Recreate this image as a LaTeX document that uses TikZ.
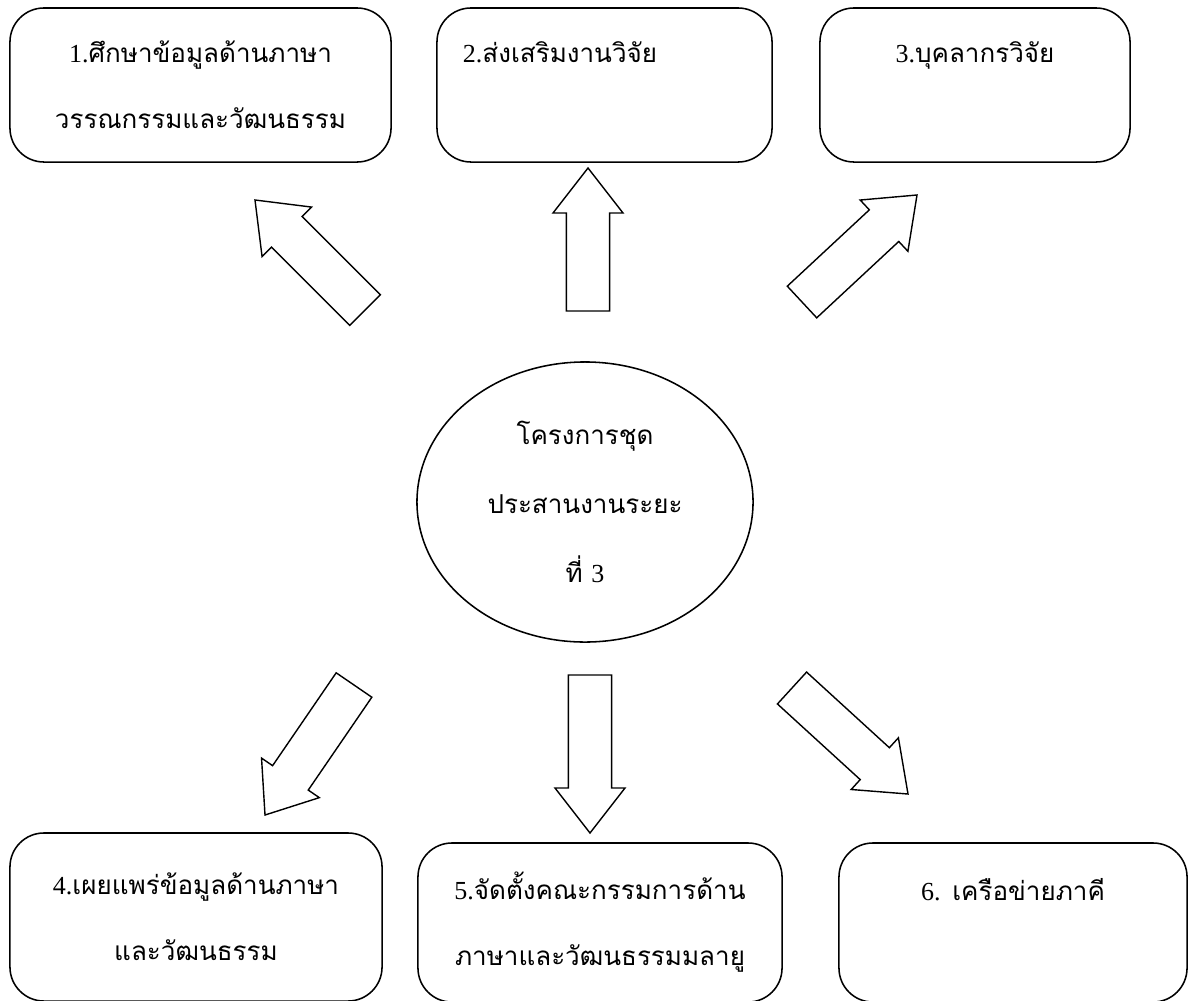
\documentclass[tikz,border=0pt]{standalone}
\usepackage{fontspec}
\newfontfamily\thaifont[Script=Thai]{Loma}
\newfontfamily\latinfont{Liberation Serif}
\usepackage{tikz}
\usetikzlibrary{calc, shapes.geometric}

% hollow block arrow from tail coordinate #1 to tip coordinate #2
\newcommand{\bigarrow}[2]{%
    \coordinate (#1-base) at ($(#2)!1.125cm!(#1)$);
    \draw[bigarrow] ($(#1)!0.54cm!90:(#2)$) -- ($(#1-base)!0.54cm!90:(#2)$)
        -- ($(#1-base)!0.875cm!90:(#2)$) -- (#2)
        -- ($(#1-base)!0.875cm!-90:(#2)$) -- ($(#1-base)!0.54cm!-90:(#2)$)
        -- ($(#1)!0.54cm!-90:(#2)$) -- cycle;%
}
% serif numbering in front of the Thai text
\newcommand{\itemno}[1]{{\latinfont #1}}

\begin{document}
\begin{tikzpicture}[
        x = 0.025cm, y = -0.025cm,
        box/.style = {draw, rounded corners=0.85cm, line width=1.1pt, align=center, inner sep=0pt, font=\thaifont\fontsize{18.5}{47}\selectfont},
        hub/.style = {ellipse, draw, line width=1.1pt, align=center, inner sep=0pt, minimum width=8.4cm, minimum height=7cm, font=\thaifont\fontsize{18.5}{49}\selectfont},
        bigarrow/.style = {draw, line width=1pt, fill=white, line join=miter}
    ]
    \useasboundingbox (0,0) rectangle (1188,1000);

    \node[hub] (hub) at (585,502) {โครงการชุด\\ประสานงานระยะ\\ที่ \itemno{3}};

    \node[box, minimum width=9.525cm, minimum height=3.85cm] (study) at (200.5,85) {\itemno{1.}ศึกษาข้อมูลด้านภาษา\\วรรณกรรมและวัฒนธรรม};
    \node[box, minimum width=8.375cm, minimum height=3.85cm, text width=7.075cm, align=left] (research) at (604.5,85) {\itemno{2.}ส่งเสริมงานวิจัย\\~};
    \node[box, minimum width=7.75cm, minimum height=3.85cm] (staff) at (975,85) {\itemno{3.}บุคลากรวิจัย\\~};
    \node[box, minimum width=9.3cm, minimum height=4.2cm] (spread) at (196,917) {\itemno{4.}เผยแพร่ข้อมูลด้านภาษา\\และวัฒนธรรม};
    \node[box, minimum width=9.1cm, minimum height=3.975cm] (board) at (600,922.5) {\itemno{5.}จัดตั้งคณะกรรมการด้าน\\ภาษาและวัฒนธรรมมลายู};
    \node[box, minimum width=8.7cm, minimum height=3.975cm] (network) at (1013,922.5) {\itemno{6.} เครือข่ายภาคี\\~};

    % arrow ends
    \coordinate (t1) at (365,310); \coordinate (h1) at (255,200);
    \coordinate (t2) at (588,311); \coordinate (h2) at (588,168);
    \coordinate (t3) at (802,302); \coordinate (h3) at (917,195);
    \coordinate (t4) at (354,685); \coordinate (h4) at (265,815);
    \coordinate (t5) at (590,675); \coordinate (h5) at (590,833);
    \coordinate (t6) at (792,688); \coordinate (h6) at (908,794);

    \bigarrow{t1}{h1}
    \bigarrow{t2}{h2}
    \bigarrow{t3}{h3}
    \bigarrow{t4}{h4}
    \bigarrow{t5}{h5}
    \bigarrow{t6}{h6}
\end{tikzpicture}
\end{document}
